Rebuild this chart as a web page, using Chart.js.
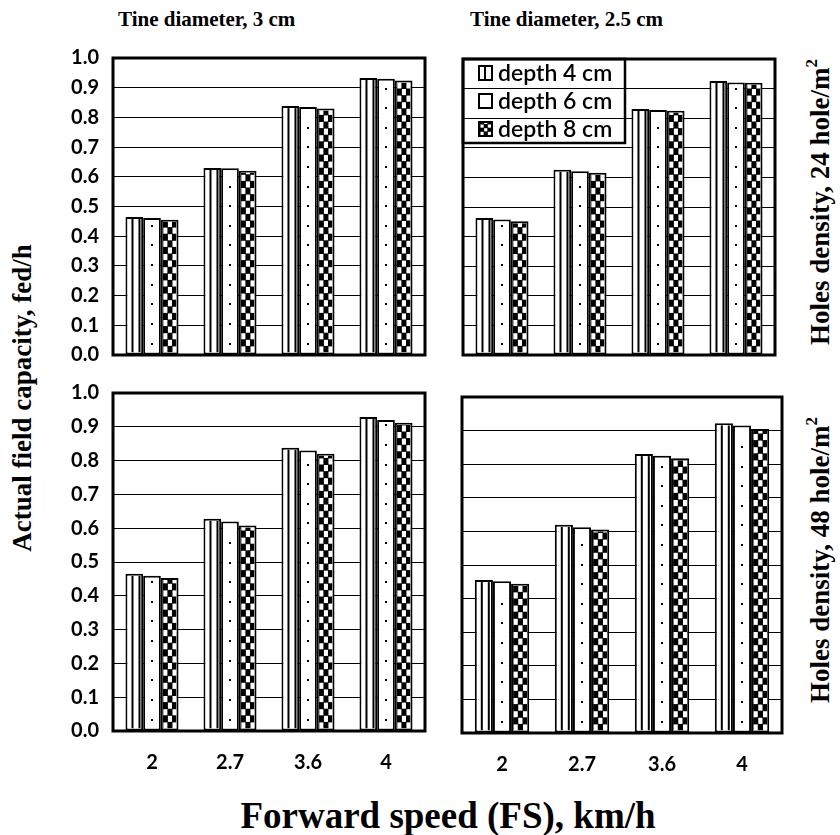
<!DOCTYPE html>
<html>
<head>
<meta charset="utf-8">
<script src="https://cdn.jsdelivr.net/npm/chart.js@4.4.0/dist/chart.umd.min.js"></script>
<style>
  body { margin: 0; background: #fff; }
  #wrap { position: relative; width: 840px; height: 835px; overflow: hidden; background: #fff; }
  canvas.panel { position: absolute; }
  .ttl { position: absolute; font-family: "Liberation Serif", "Times New Roman", serif; font-weight: bold;
         font-size: 21px; white-space: nowrap; color: #000; line-height: 1; }
  .side { font-size: 27px; }
  .rot { transform: translate(-50%, -50%) rotate(-90deg); }
  .ctr { transform: translate(-50%, -50%); }
  sup { font-size: 17px; vertical-align: 12px; }
</style>
</head>
<body>
<div id="wrap">
  <div class="ttl" style="left:118px; top:9px;">Tine diameter, 3 cm</div>
  <div class="ttl" style="left:470px; top:9px;">Tine diameter, 2.5 cm</div>
  <div class="ttl side rot" style="left:22px; top:398px;">Actual field capacity, fed/h</div>
  <div class="ttl side rot" style="left:818px; top:202px;">Holes density, 24 hole/m<sup>2</sup></div>
  <div class="ttl side rot" style="left:818px; top:560px;">Holes density, 48 hole/m<sup>2</sup></div>
  <div class="ttl ctr" style="left:448px; top:815px; font-size:37px;">Forward speed (FS), km/h</div>
  <canvas class="panel" id="p1"></canvas>
  <canvas class="panel" id="p2"></canvas>
  <canvas class="panel" id="p3"></canvas>
  <canvas class="panel" id="p4"></canvas>
</div>
<script>
var speeds = ['2', '2.7', '3.6', '4'];
var depthLabels = ['depth 4 cm', 'depth 6 cm', 'depth 8 cm'];
var depthFills = ['stripes', 'dots', 'checker'];
var yTickLabels = ['0.0', '0.1', '0.2', '0.3', '0.4', '0.5', '0.6', '0.7', '0.8', '0.9', '1.0'];

// tine 3 cm, 24 hole/m2
var t3h24_d4 = [0.465, 0.630, 0.838, 0.933];
var t3h24_d6 = [0.461, 0.629, 0.835, 0.930];
var t3h24_d8 = [0.455, 0.620, 0.830, 0.924];
// tine 2.5 cm, 24 hole/m2
var t25h24_d4 = [0.463, 0.626, 0.831, 0.926];
var t25h24_d6 = [0.458, 0.621, 0.828, 0.921];
var t25h24_d8 = [0.452, 0.616, 0.825, 0.920];
// tine 3 cm, 48 hole/m2
var t3h48_d4 = [0.465, 0.628, 0.838, 0.929];
var t3h48_d6 = [0.459, 0.620, 0.830, 0.920];
var t3h48_d8 = [0.453, 0.608, 0.820, 0.912];
// tine 2.5 cm, 48 hole/m2
var t25h48_d4 = [0.455, 0.620, 0.830, 0.922];
var t25h48_d6 = [0.452, 0.612, 0.825, 0.915];
var t25h48_d8 = [0.444, 0.606, 0.818, 0.905];

var tickFont = { family: 'Lato, "Liberation Sans", sans-serif', size: 20, weight: 'bold' };

// inner fill of one bar (or legend swatch)
function drawFill(ctx, style, l, t, r, b, small) {
  if (r <= l || b <= t) return;
  ctx.save();
  ctx.beginPath();
  ctx.rect(l, t, r - l, b - t);
  ctx.clip();
  if (style == 'checker') {
    ctx.fillStyle = '#000';
    ctx.fillRect(l, t, r - l, b - t);
    ctx.fillStyle = '#fff';
    var cw = (r - l) / 3, ch = small ? cw : 6.6;
    var row = 0;
    for (var y = b; y > t - ch; y -= ch) {
      for (var c = 0; c < 3; c++) {
        if ((row + c) % 2 == 0) ctx.fillRect(l + c * cw + 0.5, y - ch + 0.5, cw - 0.5, ch - 0.5);
      }
      row++;
    }
  } else {
    ctx.fillStyle = '#fff';
    ctx.fillRect(l, t, r - l, b - t);
    ctx.fillStyle = '#000';
    if (style == 'stripes') {
      for (var x = l + 4; x < r - 2; x += 7) ctx.fillRect(x, t, 2, b - t);
    } else if (style == 'dots' && !small) {
      var cx = Math.round((l + r) / 2) - 1;
      for (var y2 = b - 10; y2 > t + 2; y2 -= 19.6) ctx.fillRect(cx, Math.round(y2), 2, 2);
    }
  }
  ctx.restore();
}

var barFills = {
  id: 'barFills',
  afterDatasetsDraw: function (chart) {
    var ctx = chart.ctx, bw = 2;
    chart.data.datasets.forEach(function (ds, di) {
      chart.getDatasetMeta(di).data.forEach(function (bar) {
        var p = bar.getProps(['x', 'y', 'base', 'width'], true);
        drawFill(ctx, depthFills[di], p.x - p.width / 2 + bw, p.y + bw, p.x + p.width / 2 - bw, p.base - bw, false);
      });
    });
  }
};

var frame = {
  id: 'frame',
  afterDraw: function (chart) {
    var a = chart.chartArea, ctx = chart.ctx;
    ctx.save();
    ctx.strokeStyle = '#000';
    ctx.lineWidth = 3;
    ctx.strokeRect(a.left, a.top, a.right - a.left, a.bottom - a.top);
    ctx.restore();
  }
};

var boxLegend = {
  id: 'boxLegend',
  afterDraw: function (chart) {
    if (!chart.options.plugins.boxLegend || !chart.options.plugins.boxLegend.show) return;
    var a = chart.chartArea, ctx = chart.ctx;
    var w = 162, rowH = 28, n = chart.data.datasets.length;
    ctx.save();
    ctx.strokeStyle = '#000';
    ctx.lineWidth = 2.5;
    ctx.strokeRect(a.left, a.top, w, rowH * n);
    ctx.font = '600 23px Lato, "Liberation Sans", sans-serif';
    ctx.textBaseline = 'middle';
    chart.data.datasets.forEach(function (ds, i) {
      var cy = a.top + rowH * i + rowH / 2;
      var sx = a.left + 16, sy = cy - 7;
      ctx.lineWidth = 2;
      ctx.strokeStyle = '#000';
      ctx.strokeRect(sx, sy, 13, 14);
      drawFill(ctx, depthFills[i], sx + 1, sy + 1, sx + 12, sy + 13, true);
      ctx.fillStyle = '#000';
      ctx.fillText(ds.label, a.left + 35, cy + 1);
    });
    ctx.restore();
  }
};

function makePanel(id, series, box, showY, showX, withLegend) {
  // generous padding so the tick-label overhang never shrinks the plot area
  var pad = 32;
  var yw = showY ? 56 : 0;
  var xh = showX ? 48 : 0;
  var cv = document.getElementById(id);
  var w = box[2] - box[0] + yw + 2 * pad;
  var h = box[3] - box[1] + xh + 2 * pad;
  cv.width = w; cv.height = h;
  cv.style.left = (box[0] - yw - pad) + 'px';
  cv.style.top = (box[1] - pad) + 'px';
  cv.style.width = w + 'px';
  cv.style.height = h + 'px';

  new Chart(cv, {
    type: 'bar',
    data: {
      labels: speeds,
      datasets: series.map(function (vals, i) {
        return {
          label: depthLabels[i],
          data: vals,
          backgroundColor: '#fff',
          borderColor: '#000',
          borderWidth: 2,
          borderSkipped: false,
          categoryPercentage: 0.68,
          barPercentage: 1.0
        };
      })
    },
    options: {
      responsive: false,
      animation: false,
      layout: { padding: pad },
      plugins: {
        legend: { display: false },
        tooltip: { enabled: false },
        boxLegend: { show: withLegend }
      },
      scales: {
        x: {
          grid: { display: false, drawTicks: false },
          border: { display: false },
          ticks: { display: showX, color: '#000', font: tickFont, padding: 20 },
          afterFit: function (s) { s.height = xh; }
        },
        y: {
          min: 0, max: 1,
          grid: { color: '#000', lineWidth: 1, drawTicks: false },
          border: { display: false },
          ticks: {
            display: showY, stepSize: 0.1, color: '#000', font: tickFont, padding: 14,
            callback: function (v, i) { return yTickLabels[i]; }
          },
          afterFit: function (s) { s.width = yw; }
        }
      }
    },
    plugins: [barFills, frame, boxLegend]
  });
}

makePanel('p1', [t3h24_d4, t3h24_d6, t3h24_d8], [113, 58, 425, 355], true, false, false);
makePanel('p2', [t25h24_d4, t25h24_d6, t25h24_d8], [463, 59, 775, 355], false, false, true);
makePanel('p3', [t3h48_d4, t3h48_d6, t3h48_d8], [113, 393, 425, 731], true, true, false);
makePanel('p4', [t25h48_d4, t25h48_d6, t25h48_d8], [462, 397, 782, 733], false, true, false);
</script>
</body>
</html>
